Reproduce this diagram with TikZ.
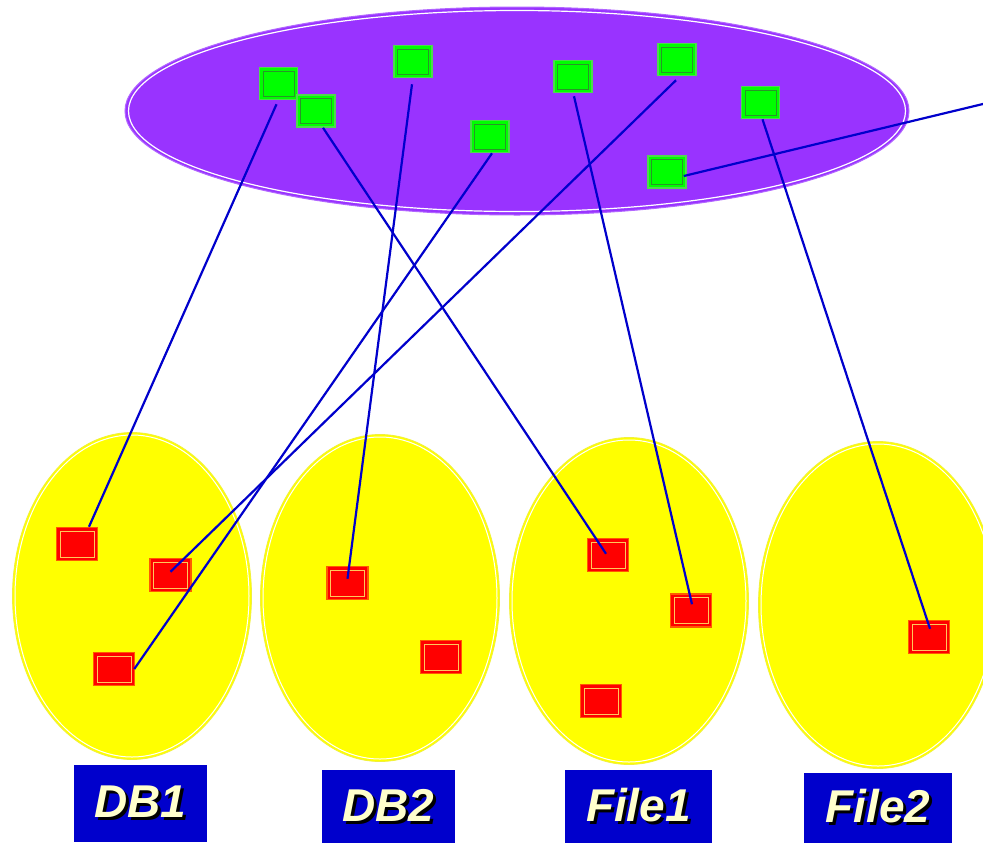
\documentclass[tikz,border=0pt]{standalone}
\usepackage{fontspec}
\setmainfont{Liberation Sans}
\definecolor{purp}{RGB}{153,51,255}
\definecolor{linkblue}{RGB}{0,0,204}
\definecolor{labblue}{RGB}{0,0,204}
\definecolor{labtext}{RGB}{255,255,204}
\definecolor{ylw}{RGB}{255,255,0}
\definecolor{ylwedge}{RGB}{240,240,60}
\definecolor{gfill}{RGB}{0,255,0}
\definecolor{gbord}{RGB}{80,215,80}
\definecolor{ginner}{RGB}{40,150,40}
\definecolor{rfill}{RGB}{255,0,0}
\definecolor{rbord}{RGB}{255,90,0}
\definecolor{rinner}{RGB}{255,200,90}
\newcommand{\shadowtext}[1]{\makebox[0pt][l]{\hspace{3pt}\raisebox{-3pt}{\textcolor{black}{#1}}}#1}
\tikzset{
  gsq/.style={rectangle, fill=gfill, draw=gbord, line width=1.5pt,
    minimum width=38pt, minimum height=32pt, inner sep=0pt,
    path picture={\draw[ginner, line width=1pt] ([shift={(3.5pt,-3.5pt)}]path picture bounding box.north west) rectangle ([shift={(-3.5pt,3.5pt)}]path picture bounding box.south east);}},
  rsq/.style={rectangle, fill=rfill, draw=rbord, line width=1.5pt,
    minimum width=41pt, minimum height=33pt, inner sep=0pt,
    path picture={\draw[rinner, line width=1pt] ([shift={(3.5pt,-3.5pt)}]path picture bounding box.north west) rectangle ([shift={(-3.5pt,3.5pt)}]path picture bounding box.south east);}},
  link/.style={draw=linkblue, line width=2.2pt},
  labbox/.style={rectangle, fill=labblue, inner sep=0pt,
    font=\fontsize{46}{46}\selectfont\bfseries\itshape, text=labtext},
}
\begin{document}
\begin{tikzpicture}[x=1pt,y=-1pt]
\useasboundingbox (0,0) rectangle (983,844);
\fill[white] (0,0) rectangle (983,844);
% big purple ellipse
\fill[purp] (517,111) ellipse [x radius=392, y radius=104];
\draw[purp!75!white, line width=1pt] (517,111) ellipse [x radius=392, y radius=104];
\draw[white, line width=1.2pt] (517,111) ellipse [x radius=388.5, y radius=100.5];
% yellow ellipses
\foreach \cx/\cy in {132/596, 380/598, 629/601, 878/605}{
  \fill[ylw] (\cx,\cy) ellipse [x radius=119.5, y radius=163.5];
  \draw[ylwedge, line width=0.8pt] (\cx,\cy) ellipse [x radius=119.5, y radius=163.5];
  \draw[white, line width=1pt] (\cx,\cy) ellipse [x radius=117, y radius=161];
}
% green squares
\node[gsq] (g1) at (278.5,83.5) {};
\node[gsq] (g2) at (316,111) {};
\node[gsq] (g3) at (413,61.5) {};
\node[gsq] (g4) at (490,136.5) {};
\node[gsq] (g5) at (573,76.5) {};
\node[gsq] (g6) at (677,59.5) {};
\node[gsq] (g7) at (760.5,102.5) {};
\node[gsq] (g8) at (667,172) {};
% red squares
\node[rsq] (r1) at (77,544) {};
\node[rsq] (r2) at (170.5,575) {};
\node[rsq] (r3) at (114,669) {};
\node[rsq] (r4) at (347.5,583) {};
\node[rsq] (r5) at (441,657) {};
\node[rsq] (r6) at (608,555) {};
\node[rsq] (r7) at (691,610.5) {};
\node[rsq] (r8) at (601,701) {};
\node[rsq] (r9) at (929,637) {};
\coordinate (off) at (983,104);
% links
\draw[link] ([shift={(-2pt,-4pt)}]g1.south) -- ([shift={(12pt,0pt)}]r1.north);
\draw[link] ([shift={(7pt,0pt)}]g2.south) -- ([shift={(-2pt,-16pt)}]r6.north);
\draw[link] ([shift={(-1pt,-6pt)}]g3.south) -- ([shift={(0pt,-13pt)}]r4.north);
\draw[link] ([shift={(2pt,0pt)}]g4.south) -- ([shift={(-1pt,0pt)}]r3.east);
\draw[link] ([shift={(-1pt,-4pt)}]g6.south) -- ([shift={(0pt,-14pt)}]r2.north);
\draw[link] ([shift={(1pt,-3pt)}]g5.south) -- ([shift={(1pt,-11pt)}]r7.north);
\draw[link] ([shift={(2pt,0pt)}]g7.south) -- ([shift={(1pt,-9pt)}]r9.north);
\draw[link] ([shift={(-3pt,-4pt)}]g8.east) -- (off);
% labels
\node[labbox, minimum width=133pt, minimum height=77pt] (b1) at (140.5,803.5) {\shadowtext{DB1}};
\node[labbox, minimum width=133pt, minimum height=73pt] (b2) at (388.5,806.5) {\shadowtext{DB2}};
\node[labbox, minimum width=147pt, minimum height=73pt] (b3) at (638.5,806.5) {\shadowtext{File1}};
\node[labbox, minimum width=148pt, minimum height=70pt] (b4) at (878,808) {\shadowtext{File2}};
\end{tikzpicture}
\end{document}
